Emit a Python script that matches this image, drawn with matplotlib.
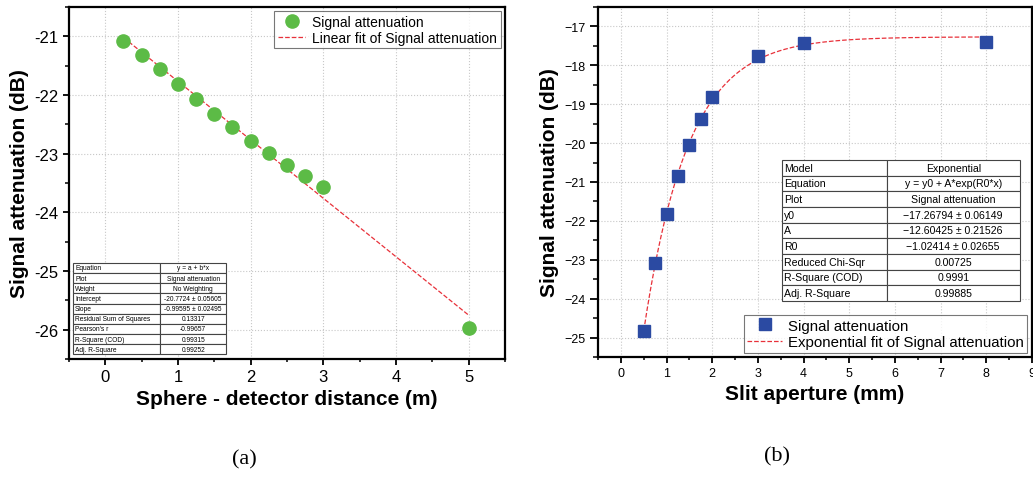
import numpy as np
import matplotlib.pyplot as plt
from matplotlib.ticker import MultipleLocator

plt.rcParams['font.family'] = ['Liberation Sans', 'DejaVu Sans']

# panel (a): signal attenuation vs sphere-detector distance
dist_m = [0.25, 0.5, 0.75, 1.0, 1.25, 1.5, 1.75, 2.0, 2.25, 2.5, 2.75, 3.0, 5.0]
atten_a = [-21.08, -21.31, -21.56, -21.82, -22.07, -22.32, -22.55, -22.78,
           -22.99, -23.19, -23.38, -23.56, -25.97]
lin_a, lin_b = -20.7724, -0.99595
table_a = [
    ["Equation", "y = a + b*x"],
    ["Plot", "Signal attenuation"],
    ["Weight", "No Weighting"],
    ["Intercept", "-20.7724 ± 0.05605"],
    ["Slope", "-0.99595 ± 0.02495"],
    ["Residual Sum of Squares", "0.13317"],
    ["Pearson's r", "-0.99657"],
    ["R-Square (COD)", "0.99315"],
    ["Adj. R-Square", "0.99252"],
]
yticks_a = [-26, -25, -24, -23, -22, -21]

# panel (b): signal attenuation vs slit aperture
slit_mm = [0.5, 0.75, 1.0, 1.25, 1.5, 1.75, 2.0, 3.0, 4.0, 8.0]
atten_b = [-24.83, -23.07, -21.82, -20.85, -20.05, -19.39, -18.81, -17.77, -17.42, -17.40]
exp_y0, exp_A, exp_R0 = -17.26794, -12.60425, -1.02414
table_b = [
    ["Model", "Exponential"],
    ["Equation", "y = y0 + A*exp(R0*x)"],
    ["Plot", "Signal attenuation"],
    ["y0", "\u221217.26794 ± 0.06149"],
    ["A", "\u221212.60425 ± 0.21526"],
    ["R0", "\u22121.02414 ± 0.02655"],
    ["Reduced Chi-Sqr", "0.00725"],
    ["R-Square (COD)", "0.9991"],
    ["Adj. R-Square", "0.99885"],
]
yticks_b = [-25, -24, -23, -22, -21, -20, -19, -18, -17]

fig = plt.figure(figsize=(10.33, 4.81), dpi=100)
ax1 = fig.add_axes([0.0668, 0.2516, 0.422, 0.7318])
ax2 = fig.add_axes([0.579, 0.2557, 0.420, 0.7277])


def style(ax, labelsize, ylen):
    for s in ax.spines.values():
        s.set_linewidth(1.6)
    ax.grid(True, which='major', ls=':', color='#c8c8c8', lw=0.8)
    ax.set_axisbelow(True)
    ax.tick_params(which='major', direction='out', length=4, width=1.3,
                   labelsize=labelsize, pad=3)
    ax.tick_params(which='minor', direction='out', length=2.5, width=1.1)
    ax.tick_params(axis='y', which='major', length=ylen)
    ax.tick_params(axis='y', which='minor', length=ylen * 0.6)
    ax.tick_params(top=False, right=False)
    ax.xaxis.set_major_locator(MultipleLocator(1))
    ax.xaxis.set_minor_locator(MultipleLocator(0.5))
    ax.yaxis.set_minor_locator(MultipleLocator(0.5))


def put_table(ax, rows, bbox, fs, col0):
    t = ax.table(cellText=rows, bbox=bbox, cellLoc='center', zorder=5)
    t.auto_set_font_size(False)
    t.set_fontsize(fs)
    for (r, c), cell in t.get_celld().items():
        cell.set_linewidth(0.8)
        cell.set_edgecolor('#444444')
        cell.set_width(col0 if c == 0 else 1 - col0)
        if c == 0:
            cell.set_text_props(ha='left')
            cell.PAD = 0.02
    return t


# ---- (a)
style(ax1, 12, 4.5)
xs = np.linspace(dist_m[0], dist_m[-1], 100)
ax1.plot(dist_m, atten_a, 'o', color='#5cbb46', ms=9.5, label='Signal attenuation', zorder=3)
ax1.plot(xs, lin_a + lin_b * xs, '--', color='#e8313a', lw=0.9,
         label='Linear fit of Signal attenuation', zorder=2)
ax1.set_xlim(-0.5, 5.5)
ax1.set_ylim(-26.5, -20.5)
ax1.set_yticks(yticks_a)
ax1.set_yticklabels(['-%d' % -v for v in yticks_a])
ax1.set_xlabel('Sphere - detector distance (m)', fontsize=15, fontweight='bold')
ax1.set_ylabel('Signal attenuation (dB)', fontsize=15, fontweight='bold')
leg = ax1.legend(loc='upper right', fontsize=10, fancybox=False, edgecolor='#555555',
                 borderpad=0.25, handletextpad=0.5, handlelength=2.0, labelspacing=0.15,
                 borderaxespad=0.3)
leg.get_frame().set_linewidth(0.8)
put_table(ax1, table_a, [0.01, 0.013, 0.35, 0.26], 4.8, 0.57)
fig.text(0.237, 0.035, '(a)', fontsize=16, family='Liberation Serif', ha='center')

# ---- (b)
style(ax2, 9, 6)
xs = np.linspace(slit_mm[0], slit_mm[-1], 200)
ax2.plot(slit_mm, atten_b, 's', color='#2b4aa2', ms=9, label='Signal attenuation', zorder=3)
ax2.plot(xs, exp_y0 + exp_A * np.exp(exp_R0 * xs), '--', color='#e8313a', lw=0.9,
         label='Exponential fit of Signal attenuation', zorder=2)
ax2.set_xlim(-0.5, 9)
ax2.set_ylim(-25.5, -16.5)
ax2.set_yticks(yticks_b)
ax2.set_yticklabels(['\u2212%d' % -v for v in yticks_b])
ax2.set_xlabel('Slit aperture (mm)', fontsize=15, fontweight='bold')
ax2.set_ylabel('Signal attenuation (dB)', fontsize=15, fontweight='bold')
leg = ax2.legend(loc='lower right', fontsize=10.8, fancybox=False, edgecolor='#555555',
                 borderpad=0.25, handletextpad=0.4, handlelength=2.3, labelspacing=0.15,
                 borderaxespad=0.3)
leg.get_frame().set_linewidth(0.8)
put_table(ax2, table_b, [0.424, 0.16, 0.548, 0.403], 7.6, 0.44)
fig.text(0.752, 0.04, '(b)', fontsize=16, family='Liberation Serif', ha='center')

fig.savefig('out.png', dpi=100)
